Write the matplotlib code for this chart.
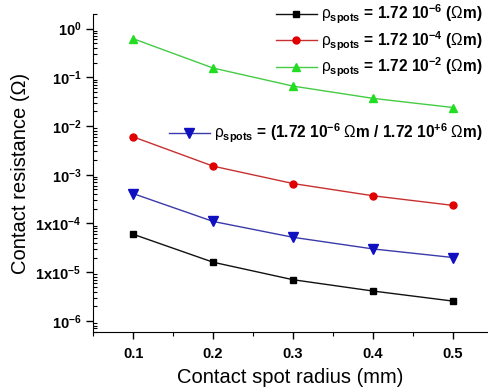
import numpy as np
import matplotlib
matplotlib.use('Agg')
import matplotlib.pyplot as plt
from matplotlib.ticker import FixedLocator, FixedFormatter, LogLocator, NullFormatter, MultipleLocator

plt.rcParams['font.family'] = ['Liberation Sans', 'DejaVu Sans']
plt.rcParams['mathtext.fontset'] = 'custom'
plt.rcParams['mathtext.rm'] = 'Liberation Sans'
plt.rcParams['mathtext.bf'] = 'Liberation Sans:bold'
plt.rcParams['mathtext.default'] = 'bf'

# dados
raio = [0.1, 0.2, 0.3, 0.4, 0.5]
r_preto = [6.0e-5, 1.6e-5, 7.0e-6, 4.1e-6, 2.55e-6]
r_vermelho = [6.0e-3, 1.5e-3, 6.6e-4, 3.7e-4, 2.35e-4]
r_verde = [0.62, 0.155, 0.066, 0.037, 0.024]
r_azul = [4.1e-4, 1.1e-4, 5.2e-5, 3.0e-5, 2.0e-5]

rho = r'$\mathrm{\rho}_{\mathbf{spots}}$'
rotulos = [rho + r' = 1.72 10$^{-6}$ ($\mathrm{\Omega}$m)',
           rho + r' = 1.72 10$^{-4}$ ($\mathrm{\Omega}$m)',
           rho + r' = 1.72 10$^{-2}$ ($\mathrm{\Omega}$m)']
rotulo_azul = rho + r' = (1.72 10$^{-6}$ $\mathrm{\Omega}$m / 1.72 10$^{+6}$ $\mathrm{\Omega}$m)'

y_ticks = [1e0, 1e-1, 1e-2, 1e-3, 1e-4, 1e-5, 1e-6]
y_labels = [r'$10^{0}$', r'$10^{-1}$', r'$10^{-2}$', r'$10^{-3}$',
            r'$1x10^{-4}$', r'$1x10^{-5}$', r'$10^{-6}$']
x_labels = ['0.1', '0.2', '0.3', '0.4', '0.5']

fig = plt.figure(figsize=(4.88, 3.87), dpi=100)
ax = fig.add_axes([0.191, 0.142, 0.809, 0.822])

l1, = ax.plot(raio, r_preto, color='#111111', lw=1, marker='s', ms=4.5, mfc='black', mec='black')
l2, = ax.plot(raio, r_vermelho, color='#c83030', lw=1, marker='o', ms=5, mfc='#e00000', mec='#e00000')
l3, = ax.plot(raio, r_verde, color='#44cc44', lw=1, marker='^', ms=6, mfc='#22dd22', mec='#22dd22')
l4, = ax.plot(raio, r_azul, color='#3a3aaa', lw=1, marker='v', ms=6.5, mfc='#1010c0', mec='#1010c0')

ax.set_yscale('log')
ax.set_ylim(5.9e-7, 2.0)
ax.set_xlim(0.05, 0.544)

ax.yaxis.set_major_locator(FixedLocator(y_ticks))
ax.yaxis.set_major_formatter(FixedFormatter(y_labels))
ax.yaxis.set_minor_locator(LogLocator(base=10, subs=np.arange(2, 10)))
ax.yaxis.set_minor_formatter(NullFormatter())
ax.xaxis.set_major_locator(FixedLocator(raio))
ax.xaxis.set_major_formatter(FixedFormatter(x_labels))
ax.xaxis.set_minor_locator(MultipleLocator(0.05))

ax.tick_params(axis='y', which='major', direction='out', length=5, width=1, labelsize=10.5)
ax.tick_params(axis='y', which='minor', direction='in', length=3, width=0.8)
ax.tick_params(axis='x', which='major', direction='out', length=5, width=1, labelsize=10.5, pad=6)
ax.tick_params(axis='x', which='minor', direction='out', length=3, width=0.8)
for t in ax.get_xticklabels():
    t.set_fontweight('bold')

ax.spines['top'].set_visible(False)
ax.spines['right'].set_visible(False)

ax.set_xlabel('Contact spot radius (mm)', fontsize=14.5, labelpad=5)
ax.set_ylabel('Contact resistance (Ω)', fontsize=14.5, labelpad=4)

fonte = {'size': 11.2, 'weight': 'bold'}
leg1 = ax.legend([l1, l2, l3], rotulos, loc='upper right', bbox_to_anchor=(1.01, 1.065),
                 frameon=False, prop=fonte, handlelength=2.65, labelspacing=0.22,
                 handletextpad=0.25, borderaxespad=0.2)
ax.add_artist(leg1)
leg2 = ax.legend([l4], [rotulo_azul], loc='upper right', bbox_to_anchor=(1.01, 0.69),
                 frameon=False, prop=fonte, handlelength=2.65, handletextpad=0.25,
                 borderaxespad=0.2)

fig.savefig('out.png', dpi=100)
